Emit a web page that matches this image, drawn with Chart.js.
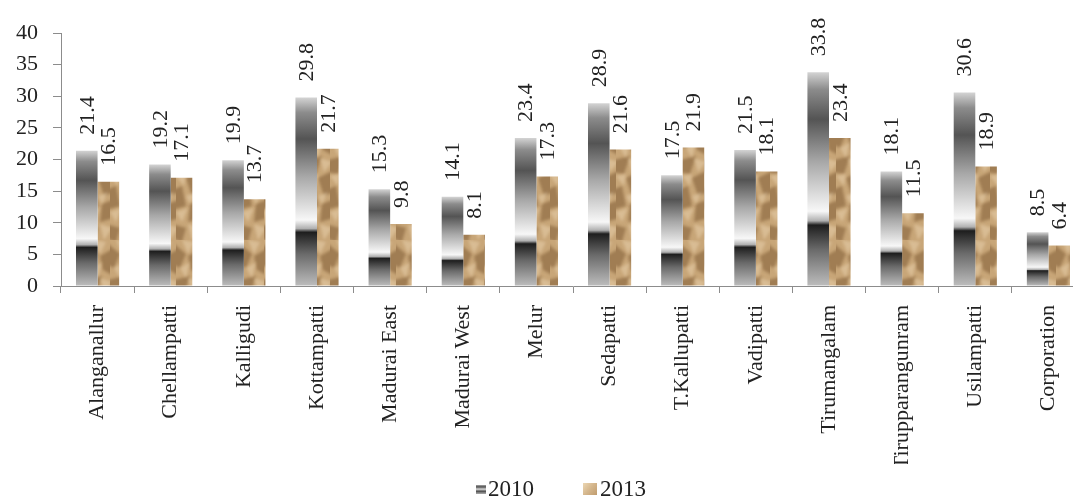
<!DOCTYPE html>
<html lang="en">
<head>
<meta charset="UTF-8">
<title>2010 vs 2013</title>
<script src="https://cdn.jsdelivr.net/npm/chart.js"></script>
<style>
  html, body { margin: 0; padding: 0; background: #fff; overflow: hidden; }
</style>
</head>
<body>
<canvas id="chart" width="1088" height="498"></canvas>
<script>
const categories = ['Alanganallur', 'Chellampatti', 'Kalligudi', 'Kottampatti', 'Madurai East',
  'Madurai West', 'Melur', 'Sedapatti', 'T.Kallupatti', 'Vadipatti', 'Tirumangalam',
  'Tirupparangunram', 'Usilampatti', 'Corporation'];
const values2010 = [21.4, 19.2, 19.9, 29.8, 15.3, 14.1, 23.4, 28.9, 17.5, 21.5, 33.8, 18.1, 30.6, 8.5];
const values2013 = [16.5, 17.1, 13.7, 21.7, 9.8, 8.1, 17.3, 21.6, 21.9, 18.1, 23.4, 11.5, 18.9, 6.4];
const seriesNames = ['2010', '2013'];
const yTicks = [0, 5, 10, 15, 20, 25, 30, 35, 40];

const FONT = 'Liberation Serif, Times New Roman, serif';

// grey metallic stops, 0 = bar bottom, 1 = bar top
const greyStops = [
  [0, '#bdbdbd'], [0.17, '#6a6a6a'], [0.285, '#1e1e1e'], [0.305, '#b0b0b0'],
  [0.35, '#f7f7f7'], [0.58, '#a8a8a8'], [0.78, '#545454'], [0.92, '#8c8c8c'], [1, '#d4d4d4']
];

// crumpled paper look for the 2013 bars (soft folds)
function sandCanvas(w, h) {
  const c = document.createElement('canvas');
  c.width = w; c.height = h;
  const g = c.getContext('2d');
  g.fillStyle = '#c8a678';
  g.fillRect(0, 0, w, h);
  const poly = (pts, col) => {
    g.fillStyle = col;
    g.beginPath(); g.moveTo(pts[0][0], pts[0][1]);
    pts.slice(1).forEach(q => g.lineTo(q[0], q[1]));
    g.closePath(); g.fill();
  };
  g.filter = 'blur(1.5px)';
  const shadows = [
    [[-4, 2], [10, 14], [4, 28], [-4, 24]],
    [[12, 16], [26, 8], [26, 36], [15, 30]],
    [[-2, 40], [14, 36], [8, 54], [-4, 52]],
    [[10, 58], [26, 50], [26, 72], [16, 76]],
    [[-4, 70], [6, 66], [10, 86], [-4, 90]],
    [[14, 84], [24, 80], [26, 98], [12, 102]],
    [[-4, 104], [10, 108], [6, 122], [-4, 118]]
  ];
  shadows.forEach(p => poly(p, 'rgba(120,84,46,0.5)'));
  const lights = [
    [[6, 0], [18, 2], [12, 14]], [[4, 28], [14, 22], [10, 38]], [[12, 38], [24, 42], [16, 52]],
    [[0, 56], [10, 54], [8, 66]], [[10, 76], [20, 72], [14, 84]], [[0, 92], [12, 88], [6, 102]],
    [[12, 104], [24, 108], [16, 120]]
  ];
  lights.forEach(p => poly(p, 'rgba(228,204,166,0.6)'));
  g.filter = 'none';
  return c;
}

const ctx = document.getElementById('chart').getContext('2d');
const sandPattern = ctx.createPattern(sandCanvas(22, 120), 'repeat');

function greyFill(context) {
  const chart = context.chart;
  const y = chart.scales.y;
  if (!y || context.type !== 'data') return '#888';
  const y0 = y.getPixelForValue(0);
  const y1 = y.getPixelForValue(context.raw);
  if (!isFinite(y0) || !isFinite(y1) || y0 === y1) return '#888';
  const grad = chart.ctx.createLinearGradient(0, y0, 0, y1);
  greyStops.forEach(s => grad.addColorStop(s[0], s[1]));
  return grad;
}

function legendIcon(kind, w, h) {
  const c = document.createElement('canvas');
  c.width = w; c.height = h;
  const g = c.getContext('2d');
  if (kind === 0) {
    const grad = g.createLinearGradient(0, h, 0, 0);
    [[0, '#bbb'], [0.25, '#333'], [0.45, '#eee'], [0.75, '#444'], [1, '#ccc']].forEach(s => grad.addColorStop(s[0], s[1]));
    g.fillStyle = grad;
  } else {
    const grad = g.createLinearGradient(0, 0, w, h);
    [[0, '#ecd7b4'], [0.5, '#d4b68c'], [1, '#c09c6e']].forEach(s => grad.addColorStop(s[0], s[1]));
    g.fillStyle = grad;
  }
  g.fillRect(0, 0, w, h);
  return c;
}
const icons = [legendIcon(0, 10, 9), legendIcon(1, 14, 12)];

const valueLabels = {
  id: 'valueLabels',
  afterDatasetsDraw(chart) {
    const c = chart.ctx;
    c.save();
    c.font = '22px ' + FONT;
    c.fillStyle = '#222';
    c.textAlign = 'left';
    c.textBaseline = 'middle';
    chart.data.datasets.forEach((ds, i) => {
      chart.getDatasetMeta(i).data.forEach((bar, j) => {
        c.save();
        c.translate(bar.x, bar.y - 16);
        c.rotate(-Math.PI / 2);
        c.fillText(ds.data[j].toFixed(1), 0, 1);
        c.restore();
      });
    });
    c.restore();
  }
};

// legend drawn by hand so that its spacing matches
const bottomLegend = {
  id: 'bottomLegend',
  afterDraw(chart) {
    const c = chart.ctx;
    c.save();
    c.font = '23px ' + FONT;
    c.fillStyle = '#222';
    c.textAlign = 'left';
    c.textBaseline = 'middle';
    const y = 489;
    const iconX = [476, 583];
    const textX = [488, 600];
    seriesNames.forEach((name, i) => {
      c.drawImage(icons[i], iconX[i], y - icons[i].height / 2);
      c.fillText(name, textX[i], y + 1);
    });
    c.restore();
  }
};

new Chart(ctx, {
  type: 'bar',
  data: {
    labels: categories,
    datasets: [
      { label: seriesNames[0], data: values2010, backgroundColor: greyFill },
      { label: seriesNames[1], data: values2013, backgroundColor: sandPattern }
    ]
  },
  options: {
    responsive: false,
    animation: false,
    devicePixelRatio: 1,
    datasets: { bar: { categoryPercentage: 0.59, barPercentage: 1 } },
    layout: { padding: { top: 33, left: 1, right: 3, bottom: 34 } },
    plugins: {
      tooltip: { enabled: false },
      legend: { display: false }
    },
    scales: {
      x: {
        grid: { display: true, drawOnChartArea: false, drawTicks: true, tickLength: 7, color: '#8c8c8c', offset: true },
        border: { display: true, color: '#8c8c8c' },
        ticks: {
          font: { family: FONT, size: 22 }, color: '#222',
          minRotation: 90, maxRotation: 90, autoSkip: false, padding: 12
        },
        afterFit(scale) { scale.height = 178; }
      },
      y: {
        min: 0, max: 40,
        afterBuildTicks(scale) { scale.ticks = yTicks.map(v => ({ value: v })); },
        grid: { display: true, drawOnChartArea: false, drawTicks: true, tickLength: 8, color: '#8c8c8c' },
        border: { display: true, color: '#8c8c8c' },
        ticks: { font: { family: FONT, size: 22 }, color: '#222', padding: 15 }
      }
    }
  },
  plugins: [valueLabels, bottomLegend]
});
</script>
</body>
</html>
